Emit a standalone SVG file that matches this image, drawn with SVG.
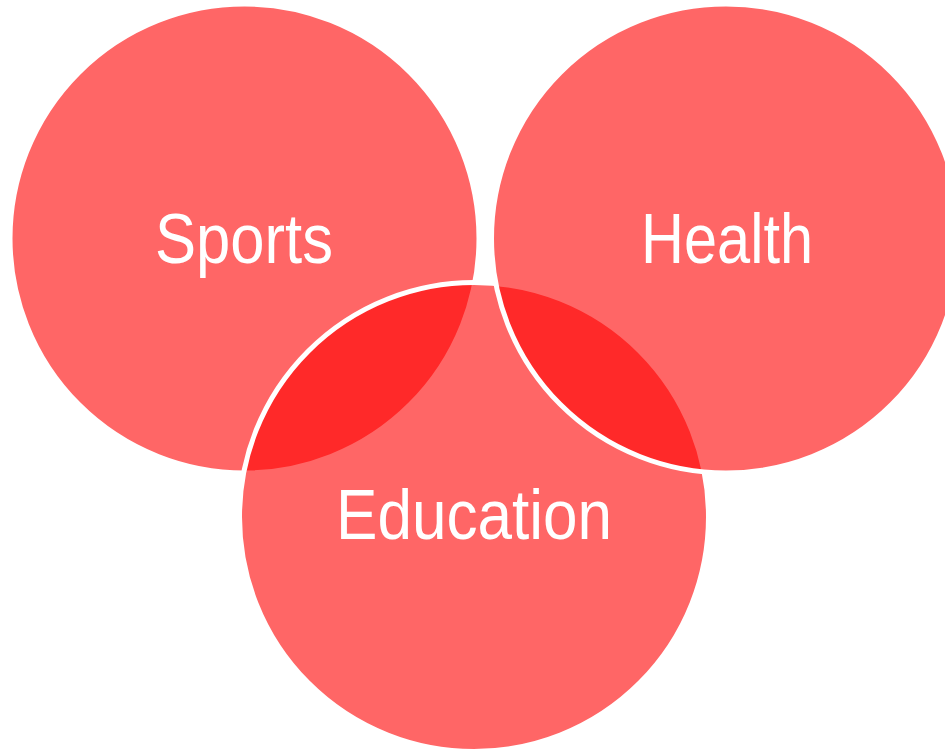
<svg xmlns="http://www.w3.org/2000/svg" width="945" height="750" viewBox="0 0 945 750">
  <style>
    .ring { fill: #ff0000; fill-opacity: 0.6; stroke: #ffffff; stroke-width: 5; }
    .label { fill: #ffffff; font-family: "Liberation Sans", Arial, sans-serif; font-size: 70px; text-anchor: middle; }
  </style>
  <rect x="0" y="0" width="945" height="750" fill="#ffffff"/>
  <!-- circles are stacked: Sports, then Education, then Health -->
  <g id="sports">
    <circle class="ring" cx="244.5" cy="238.5" r="234.5"/>
  </g>
  <g id="education">
    <circle class="ring" cx="474" cy="517" r="234.5"/>
  </g>
  <g id="health">
    <circle class="ring" cx="726" cy="238.5" r="234.5"/>
  </g>
  <g id="labels">
    <text class="label" x="244" y="263" textLength="178" lengthAdjust="spacingAndGlyphs">Sports</text>
    <text class="label" x="727" y="263" textLength="172" lengthAdjust="spacingAndGlyphs">Health</text>
    <text class="label" x="474" y="539" textLength="276" lengthAdjust="spacingAndGlyphs">Education</text>
  </g>
  <g id="connectors"></g>
</svg>
